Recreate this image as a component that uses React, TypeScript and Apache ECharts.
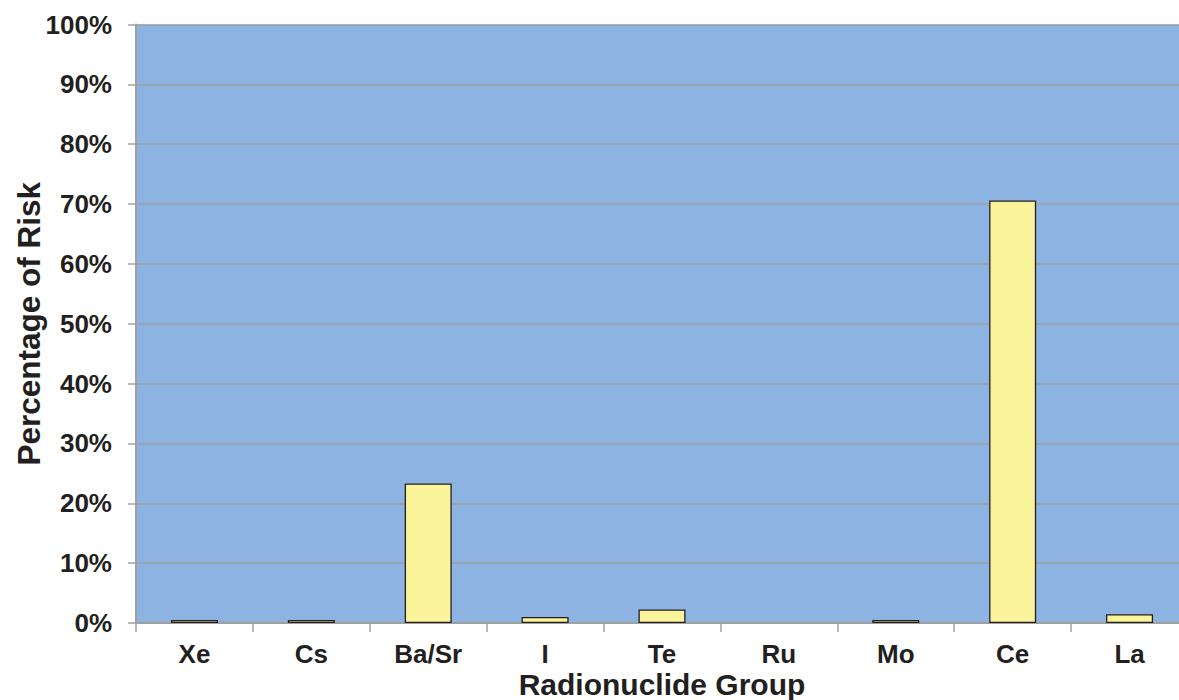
import React, { useEffect, useRef } from "react";
import * as echarts from "echarts";

const categories = ["Xe", "Cs", "Ba/Sr", "I", "Te", "Ru", "Mo", "Ce", "La"];
const riskPercent = [0.5, 0.5, 23.3, 1.0, 2.25, 0, 0.5, 70.6, 1.45];
const yTicks = { min: 0, max: 100, interval: 10 };

const FONT = "'Liberation Sans', Arial, sans-serif";
const TEXT = "#231F20";
const GRAY = "#A0A0A0";

export default function App() {
  const ref = useRef<HTMLDivElement>(null);
  useEffect(() => {
    if (!ref.current) return;
    const chart = echarts.init(ref.current, undefined, { renderer: "svg" });
    chart.setOption({
      animation: false,
      backgroundColor: "#FFFFFF",
      grid: {
        left: 136,
        right: -9,
        top: 24.5,
        bottom: 77,
        show: true,
        backgroundColor: "#8DB3E2",
        borderWidth: 0,
        containLabel: false,
        outerBoundsMode: "none",
      },
      xAxis: {
        type: "category",
        data: categories,
        name: "Radionuclide Group",
        nameLocation: "middle",
        nameGap: 46,
        nameMoveOverlap: false,
        nameTextStyle: { fontFamily: FONT, fontWeight: "bold", fontSize: 30, color: TEXT, lineHeight: 30 },
        axisLine: { show: true, lineStyle: { color: GRAY, width: 2 } },
        axisTick: { show: true, length: 9, interval: 0, lineStyle: { color: GRAY, width: 1.5 } },
        axisLabel: { fontFamily: FONT, fontWeight: "bold", fontSize: 26, color: TEXT, margin: 18, interval: 0 },
        splitLine: { show: false },
      },
      yAxis: {
        type: "value",
        min: yTicks.min,
        max: yTicks.max,
        interval: yTicks.interval,
        name: "Percentage of Risk",
        nameLocation: "middle",
        nameGap: 92,
        nameMoveOverlap: false,
        nameTextStyle: { fontFamily: FONT, fontWeight: "bold", fontSize: 31.5, color: TEXT, lineHeight: 31 },
        axisLine: { show: true, lineStyle: { color: GRAY, width: 2 } },
        axisTick: { show: true, length: 8, lineStyle: { color: GRAY, width: 1.5 } },
        axisLabel: {
          fontFamily: FONT,
          fontWeight: "bold",
          fontSize: 26,
          color: TEXT,
          margin: 24,
          formatter: "{value}%",
        },
        splitLine: { show: true, lineStyle: { color: GRAY, width: 1.5 } },
      },
      series: [
        {
          type: "bar",
          data: riskPercent.map((v) => (v === 0 ? "-" : v)),
          barWidth: 47,
          itemStyle: { color: "#FAF39A", borderColor: "#231F20", borderWidth: 1.3 },
        },
      ],
    });
    return () => chart.dispose();
  }, []);
  return (
    <div
      ref={ref}
      style={{ position: "fixed", left: 0, top: 0, width: 1179, height: 700 }}
    />
  );
}
